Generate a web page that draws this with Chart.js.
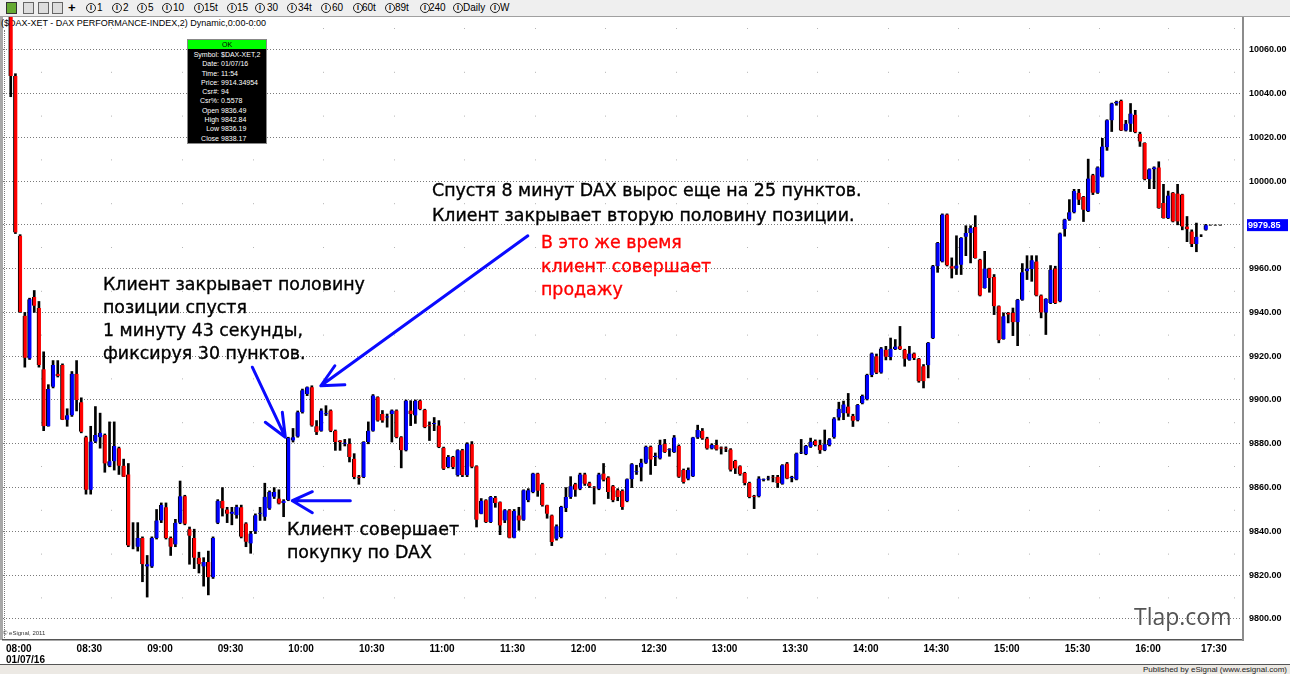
<!DOCTYPE html>
<html>
<head>
<meta charset="utf-8">
<script src="https://cdn.jsdelivr.net/npm/chart.js@4.4.1/dist/chart.umd.min.js"></script>
<style>
html, body { margin: 0; padding: 0; background: #fff; }
#wrap { position: relative; width: 1290px; height: 674px; overflow: hidden; font-family: 'Liberation Sans', Arial, sans-serif; }
#chart { position: absolute; left: 0; top: 0; z-index: 1; }
#title { position: absolute; left: 1px; top: 18px; font-size: 9px; color: #000; z-index: 0; white-space: nowrap; }
#toolbar { position: absolute; left: 0; top: 0; width: 1290px; height: 16px; background: #efefef; border-bottom: 1px solid #a0a0a0; z-index: 2; }
#toolbar span { position: absolute; top: 2px; font-size: 10px; color: #000; }
#toolbar .ci { top: 3px; width: 8px; height: 8px; border: 1px solid #222; border-radius: 50%; font-size: 7px; line-height: 8px; text-align: center; font-weight: bold; }
#toolbar .ic { top: 2px; width: 9px; height: 10px; border: 1px solid #666; background: #ddd; }
#leftbar { position: absolute; left: 0; top: 17px; width: 3px; height: 623px; background: #a8a8a8; z-index: 0; }
#leftdots { position: absolute; left: 4px; top: 30px; width: 0; height: 610px; border-left: 1px dotted #777; z-index: 0; }
#footer { position: absolute; left: 0; top: 664px; width: 1290px; height: 10px; background: #ece9e4; border-top: 1px solid #555; z-index: 2; }
#footer span { position: absolute; right: 3px; top: 0; font-size: 8px; color: #222; }
#copy { position: absolute; left: 3px; top: 630px; font-size: 6px; color: #333; z-index: 2; }
.note { position: absolute; font-family: 'DejaVu Sans', sans-serif; font-size: 17.4px; color: #000; white-space: nowrap; z-index: 3; -webkit-text-stroke: 0.35px #000; }
.red { color: #ff0000; -webkit-text-stroke: 0.35px #ff0000; }
#tlap { position: absolute; left: 1134px; top: 605px; font-family: 'Open Sans', sans-serif; font-size: 23px; line-height: 1; color: #555; z-index: 3; }
#info { position: absolute; left: 187px; top: 39px; width: 78px; height: 103px; background: #000; border: 1px solid #888; z-index: 3; font-size: 7px; color: #fff; }
#info .ok { height: 9px; background: #00ff00; color: #000; text-align: center; line-height: 9px; }
#info table { border-collapse: collapse; width: 100%; margin-top: 1px; }
#info td { padding: 0; height: 9.3px; line-height: 9.3px; white-space: nowrap; }
#info td.k { text-align: right; width: 31px; padding-right: 2px; }
</style>
</head>
<body>
<div id="wrap">
  <div id="leftbar"></div>
  <div id="leftdots"></div>
  <div id="title">($DAX-XET - DAX PERFORMANCE-INDEX,2) Dynamic,0:00-0:00</div>
  <canvas id="chart" width="1290" height="674"></canvas>
  <div id="toolbar"></div>
  <div id="copy">© eSignal, 2011</div>
  <div id="footer"><span>Published by eSignal (www.esignal.com)</span></div>
  <div id="info"><div class="ok">OK</div><table id="infotable"></table></div>
  <div class="note" style="left:432px;top:178px;line-height:25px">Спустя 8 минут DAX вырос еще на 25 пунктов.<br>Клиент закрывает вторую половину позиции.</div>
  <div class="note red" style="left:541px;top:231px;line-height:23.5px">В это же время<br>клиент совершает<br>продажу</div>
  <div class="note" style="left:103px;top:273px;line-height:23px">Клиент закрывает половину<br>позиции спустя<br>1 минуту 43 секунды,<br>фиксируя 30 пунктов.</div>
  <div class="note" style="left:287px;top:518px;line-height:23px">Клиент совершает<br>покупку по DAX</div>
  <div id="tlap">Tlap.com</div>
</div>
<script>
// 2-minute bars, DAX 07.01.2016
var open = [
  10080, 10048, 9975, 9938.5, 9919, 9947, 9942, 9914, 9888, 9906,
  9912, 9916, 9891, 9893, 9912, 9899, 9883, 9859, 9881, 9883,
  9884, 9870, 9872, 9878, 9870, 9866, 9833.5, 9833, 9837, 9824,
  9824, 9837, 9845, 9851, 9837, 9834, 9844, 9856, 9841, 9837,
  9828, 9824, 9826, 9819, 9844, 9854, 9850, 9848, 9847.4, 9851,
  9843.6, 9834.5, 9840, 9848, 9846.7, 9850.5, 9855.8, 9855, 9853, 9854.2,
  9881.5, 9883.3, 9894.4, 9902.7, 9905.8, 9888, 9886, 9893.5, 9895.2, 9886,
  9881.5, 9880, 9880, 9873.2, 9865, 9864.8, 9880.8, 9886, 9901.2, 9893.6,
  9892, 9893.6, 9895.2, 9883, 9877, 9895.2, 9892.9, 9899.7, 9895.5, 9888.5,
  9889, 9888.3, 9878.2, 9869.4, 9874, 9865.6, 9877, 9865.6, 9879.8, 9869.8,
  9848, 9854.2, 9844.3, 9855.4, 9853.3, 9845, 9849.6, 9837.1, 9847.3, 9845.3,
  9854.2, 9858, 9866.4, 9861.5, 9851.9, 9847.3, 9836.6, 9837.4, 9850.7, 9855.7,
  9861.5, 9859.5, 9866, 9862, 9860.3, 9859.5, 9866.4, 9864.6, 9860.6, 9858.8,
  9858.5, 9853.9, 9863.8, 9867, 9869.2, 9871.3, 9878.6, 9874, 9873.3, 9880,
  9877, 9876.3, 9879, 9868, 9864, 9865.2, 9882.9, 9886, 9882.4, 9877.9,
  9879.4, 9878.3, 9878, 9877.4, 9872.2, 9869.8, 9866.7, 9862.1, 9856, 9856,
  9863.5, 9864.2, 9864.8, 9864.9, 9861.8, 9871, 9864.4, 9863.7, 9876, 9875.3,
  9878.6, 9881.4, 9879.4, 9877.1, 9879.4, 9883, 9892, 9894, 9897, 9892.7,
  9890.7, 9898.5, 9900.3, 9911.4, 9920, 9912.5, 9923, 9919.6, 9923.3, 9924.5,
  9923, 9918.4, 9921.2, 9918.8, 9915.4, 9915.9, 9928.3, 9961.1, 9963.3, 9984.7,
  9961.1, 9960, 9961.8, 9974.5, 9976.3, 9979, 9964.1, 9951.2, 9960, 9956.2,
  9942.8, 9927.9, 9939.8, 9939.8, 9935.5, 9945.8, 9958.8, 9959.8, 9963.3, 9947.7,
  9940, 9944.3, 9960, 9945.1, 9978.1, 9982.4, 9985.7, 9994.6, 9992.8, 9986.2,
  10002.6, 9994.6, 10002, 10015.4, 10027.7, 10035.4, 10036.5, 10023.1, 10026.2, 10030.3,
  10021.5, 10017.4, 10000.8, 10005.4, 10006.2, 9990, 9983.1, 9994.6, 9994.3, 9993.8,
  9979.2, 9976.9, 9971.2, 9975, 9977.7
];
var high = [
  10082, 10049, 9975.5, 9940, 9946.5, 9950, 9945, 9922, 9907, 9918,
  9918, 9916.5, 9896, 9913, 9918, 9901, 9883.5, 9888, 9897, 9894,
  9884.5, 9890, 9890, 9878.5, 9873, 9871, 9844, 9844, 9837.5, 9829,
  9837.5, 9850, 9853, 9853, 9837.5, 9845.5, 9863, 9856.5, 9842, 9841,
  9830.5, 9828, 9831, 9837.5, 9854.5, 9860, 9851, 9851, 9852, 9852,
  9844, 9840, 9848, 9851, 9862, 9858.5, 9860, 9859, 9854.5, 9883,
  9887, 9895, 9905, 9906, 9906.5, 9890.6, 9896, 9897.4, 9895.5, 9886.3,
  9881.5, 9882, 9882.3, 9875.5, 9865.6, 9881, 9890, 9902.5, 9901.5, 9895.2,
  9893.6, 9895.5, 9895.5, 9883.3, 9900, 9899.7, 9900, 9900, 9895.8, 9890,
  9892, 9890.6, 9878.5, 9874.7, 9874.3, 9877.3, 9877.5, 9880.5, 9881, 9870,
  9855, 9854.5, 9856, 9856, 9853.5, 9850, 9850, 9850, 9851, 9859,
  9859.5, 9866.6, 9866.6, 9862, 9852, 9847.5, 9843, 9851.5, 9860, 9865,
  9862, 9866.6, 9866.6, 9862.5, 9860.5, 9866.6, 9871, 9865, 9861, 9859.5,
  9859, 9864, 9871, 9870.2, 9873, 9879, 9879, 9875.8, 9881.7, 9882,
  9877.8, 9883.8, 9879.5, 9868.5, 9869, 9883, 9888.5, 9887, 9883, 9880,
  9881.7, 9878.6, 9878.6, 9877.8, 9872.5, 9870, 9867, 9862.5, 9856.5, 9865,
  9864, 9865.2, 9865.6, 9865.6, 9870.5, 9871.5, 9865.2, 9875.8, 9882, 9879.3,
  9882.6, 9881.8, 9881.7, 9886.3, 9882.4, 9892, 9899, 9899.5, 9903, 9893.5,
  9898, 9902.3, 9911.8, 9921.5, 9921, 9924, 9924.5, 9928.3, 9927.6, 9933.6,
  9923.2, 9924.5, 9921.5, 9919, 9916.2, 9926.3, 9961.5, 9972, 9985, 9985,
  9964.9, 9975, 9974.2, 9979.6, 9979.6, 9984.2, 9964.3, 9967.9, 9960.2, 9957.3,
  9943, 9939.8, 9940, 9942, 9946, 9962.3, 9965.9, 9965.9, 9965.9, 9948,
  9946.3, 9961.4, 9961.1, 9976.3, 9982.6, 9991.5, 9996.2, 9996.2, 9993, 10010,
  10003.1, 10006.5, 10019.5, 10028, 10035.6, 10036.5, 10037, 10027.7, 10035.4, 10032.3,
  10022.3, 10017.5, 10005.6, 10006.5, 10008.8, 9998.5, 9995.4, 9994.8, 9998.5, 9994,
  9983.8, 9977.7, 9980.8, 9975.5, 9980.2
];
var low = [
  10038.5, 9976, 9940, 9915, 9918.5, 9940, 9915, 9886, 9888, 9905.5,
  9910.5, 9891, 9888, 9892.5, 9895, 9885, 9857, 9857, 9880.5, 9878,
  9867, 9869.5, 9868, 9866, 9865, 9833, 9832, 9831, 9817, 9810,
  9823.5, 9836.5, 9844, 9836.5, 9829, 9833, 9843.5, 9843, 9825, 9823,
  9821, 9815, 9811, 9818.5, 9843.5, 9847, 9844, 9843, 9846, 9837,
  9833, 9830, 9839, 9845, 9845, 9850, 9855, 9852.5, 9846.7, 9854,
  9880.8, 9883, 9894, 9902, 9888, 9884.2, 9885.7, 9892.9, 9885.5, 9877,
  9877, 9879, 9871.7, 9864, 9861.5, 9864.5, 9880, 9885.7, 9890.3, 9889.8,
  9887.6, 9880.8, 9882.7, 9869, 9876.7, 9888.3, 9889.3, 9895.5, 9887.3, 9881.5,
  9886, 9878.2, 9868.2, 9869, 9868.6, 9865.2, 9865, 9865, 9869, 9842,
  9848, 9844, 9844, 9851, 9838.5, 9844, 9837, 9837, 9840.5, 9845,
  9853.5, 9857.6, 9856, 9851.5, 9846, 9833.5, 9836, 9837, 9849, 9855,
  9856, 9859, 9861, 9860, 9852.5, 9859, 9863, 9855, 9853.5, 9854,
  9850, 9853.5, 9860, 9866, 9863, 9871, 9866, 9870, 9873, 9876,
  9874.3, 9876, 9864.6, 9862, 9863.5, 9865, 9882.4, 9882, 9877.5, 9877.6,
  9877.1, 9875.3, 9876.4, 9867.5, 9866.4, 9865.6, 9861.2, 9855.3, 9850.4, 9855.7,
  9863, 9863.4, 9862.6, 9860, 9861.5, 9864, 9862.6, 9863.5, 9875.5, 9875,
  9878.3, 9879, 9875.6, 9876.8, 9879, 9882.5, 9890.8, 9891, 9892.5, 9887.9,
  9890.4, 9898.2, 9900, 9910.6, 9912, 9912.2, 9918.3, 9918.3, 9923, 9923,
  9915.4, 9918.1, 9918.4, 9908.1, 9905.5, 9910.1, 9928, 9958.3, 9963, 9961.2,
  9955.7, 9957.3, 9957.3, 9965.9, 9962.6, 9964.7, 9947.5, 9951, 9949.2, 9939,
  9926.1, 9927.7, 9935.2, 9929.4, 9924.8, 9945.5, 9955, 9954.2, 9947.5, 9937.5,
  9929.9, 9944, 9944, 9944.8, 9974.8, 9982, 9985.4, 9989.2, 9981.5, 9986,
  9993.8, 9994.3, 10001.8, 10014, 10022.6, 10034.6, 10023, 10022.8, 10022.6, 10022,
  10015.8, 10000.5, 9996.5, 9996.5, 9987.5, 9983, 9982.8, 9981.3, 9980, 9977.7,
  9972.3, 9970, 9967.7, 9974.6, 9977.5
];
var close = [
  10048, 9976.5, 9940.2, 9919.3, 9946, 9943, 9916, 9888, 9905, 9916,
  9911, 9891, 9893, 9912, 9900, 9885.5, 9859, 9881, 9884, 9885,
  9871, 9872, 9879, 9870, 9865, 9833.5, 9833.5, 9837, 9825, 9825,
  9837, 9845, 9852, 9837, 9833, 9844, 9856, 9843.5, 9838, 9828,
  9825, 9826, 9819, 9837, 9854, 9850.5, 9848, 9849, 9851.2, 9837.6,
  9835.3, 9839, 9847.4, 9848.5, 9855.8, 9858, 9858, 9852.7, 9854, 9882.7,
  9883, 9894.4, 9904.5, 9905.8, 9888.3, 9885.3, 9895.2, 9894, 9886, 9880.8,
  9880.8, 9880.5, 9874, 9864.8, 9864.5, 9880.8, 9886, 9902, 9890.6, 9890.6,
  9892.5, 9895.2, 9883, 9877, 9899.7, 9893.6, 9899.7, 9895.9, 9887.6, 9888,
  9889.5, 9878.5, 9868.6, 9874, 9869.4, 9877, 9865.6, 9880, 9869.5, 9845.3,
  9854, 9844.3, 9855.7, 9853, 9842.7, 9849.6, 9837.1, 9849.3, 9845, 9858.8,
  9858.8, 9866.4, 9858.5, 9851.9, 9848, 9835.1, 9842.3, 9851.1, 9855.7, 9860.6,
  9859, 9866, 9861.8, 9860.6, 9860, 9866, 9863.6, 9858, 9854.2, 9855.7,
  9851.1, 9863.8, 9870.7, 9867.5, 9871.3, 9878.6, 9872.8, 9874.5, 9879.4, 9876.3,
  9877.5, 9882.9, 9864.9, 9862.6, 9868, 9882.9, 9886.3, 9882.4, 9877.9, 9879.4,
  9877.4, 9877.9, 9877.7, 9868.2, 9868.7, 9866.1, 9862.1, 9855.7, 9855.7, 9864.1,
  9863.8, 9864.5, 9864.6, 9862.1, 9870.2, 9864.1, 9864.8, 9875.6, 9876.3, 9879,
  9880.9, 9879.4, 9877.1, 9879.8, 9882, 9891.5, 9896, 9898, 9893.8, 9890.5,
  9897.7, 9901.8, 9911.4, 9921.2, 9912.4, 9923.5, 9919.7, 9923.4, 9924.4, 9923.3,
  9918.8, 9921.2, 9919.2, 9908.6, 9908.6, 9926.1, 9961.1, 9971.7, 9984.7, 9961.5,
  9960, 9961.4, 9974, 9976.3, 9978.6, 9964.9, 9947.7, 9960, 9955.7, 9942.8,
  9927.3, 9938.2, 9939, 9935.5, 9945.8, 9958.3, 9960, 9963.8, 9947.7, 9940,
  9946.1, 9959.5, 9944.3, 9976, 9982.4, 9985.7, 9995.4, 9991.5, 9986.9, 10001.1,
  9994.6, 10006.2, 10015.8, 10027.7, 10035.4, 10036.2, 10023.1, 10026.2, 10030.8, 10022.3,
  10018, 10000.8, 10005.4, 10006.2, 9987.7, 9983.1, 9993.4, 9981.5, 9981.5, 9979.2,
  9978, 9971.2, 9974.6, 9975, 9979.85
];

var xTickLabels = ['08:00', '08:30', '09:00', '09:30', '10:00', '10:30', '11:00', '11:30', '12:00',
  '12:30', '13:00', '13:30', '14:00', '14:30', '15:00', '15:30', '16:00', '17:30'];
var sessionDate = '01/07/16';
var yTickStep = 20;

var toolbarLabels = ['1', '2', '5', '10', '15t', '15', '30', '34t', '60', '60t', '89t', '240', 'Daily', 'W'];
var infoRows = [['Symbol:', '$DAX-XET,2'], ['Date:', '01/07/16'], ['Time:', '11:54'], ['Price:', '9914.34954'],
  ['Csr#:', '94'], ['Csr%:', '0.5578'], ['Open', '9836.49'], ['High', '9842.84'], ['Low', '9836.19'], ['Close', '9838.17']];

// toolbar
var tb = document.getElementById('toolbar');
var circX = [86, 112, 137, 162, 194, 227, 255, 287, 321, 353, 385, 420, 453, 490];
var txtX = [97, 123, 148, 173, 204, 237, 267, 298, 332, 362, 395, 429, 463, 500];
tb.innerHTML = '<span class="ic" style="left:6px;background:#6a3;border-color:#333"></span>' +
  '<span class="ic" style="left:23px"></span><span class="ic" style="left:38px"></span>' +
  '<span class="ic" style="left:52px"></span><span style="left:68px;font-weight:bold;font-size:13px;top:0">+</span>';
toolbarLabels.forEach(function (t, i) {
  tb.innerHTML += '<span class="ci" style="left:' + circX[i] + 'px">I</span><span style="left:' + txtX[i] + 'px">' + t + '</span>';
});

var it = document.getElementById('infotable');
infoRows.forEach(function (r) {
  it.innerHTML += '<tr><td class="k">' + r[0] + '</td><td>' + r[1] + '</td></tr>';
});

var xTickPos = xTickLabels.map(function (t, i) { return i < xTickLabels.length - 1 ? -1 + 15 * i : close.length - 2; });

var bodies = open.map(function (o, i) { return { x: i, y: [o, close[i]] }; });
var wicks = low.map(function (l, i) { return { x: i, y: [l, high[i]] }; });
var bodyColors = open.map(function (o, i) { return close[i] < o ? '#ff0000' : '#0000ff'; });

// bars the blue arrows point at
var buyBar = 59, sellBar = 64;

function arrow(ctx, tx, ty, dx, dy, wings) {
  ctx.beginPath();
  ctx.moveTo(tx + dx, ty + dy);
  ctx.lineTo(tx, ty);
  wings.forEach(function (w) { ctx.moveTo(tx, ty); ctx.lineTo(tx + w[0], ty + w[1]); });
  ctx.stroke();
}

var overlay = {
  id: 'overlay',
  afterDatasetsDraw: function (chart) {
    var ctx = chart.ctx, xs = chart.scales.x, ys = chart.scales.y;
    var last = close.length - 1;
    var yl = ys.getPixelForValue(close[last]);
    ctx.save();
    ctx.strokeStyle = '#000';
    ctx.lineWidth = 1;
    ctx.setLineDash([3, 2]);
    ctx.beginPath();
    ctx.moveTo(xs.getPixelForValue(last) + 3, yl);
    ctx.lineTo(xs.getPixelForValue(last) + 18, yl);
    ctx.stroke();
    ctx.setLineDash([]);
    ctx.strokeStyle = '#0a0aff';
    ctx.lineWidth = 3;
    ctx.lineCap = 'round';
    var sx = xs.getPixelForValue(sellBar) + 9, sy = ys.getPixelForValue(high[sellBar]);
    arrow(ctx, sx, sy, 207, -150, [[14, -20], [24, -1]]);
    var ex = xs.getPixelForValue(buyBar) - 3, ey = ys.getPixelForValue(high[buyBar]);
    arrow(ctx, ex, ey, -33, -70, [[-20, -15], [-3, -25]]);
    var bx = xs.getPixelForValue(buyBar) + 4, by = ys.getPixelForValue(low[buyBar]);
    arrow(ctx, bx, by, 58, 0, [[20, -9], [20, 12]]);
    ctx.restore();
  },
  afterDraw: function (chart) {
    var ctx = chart.ctx, ys = chart.scales.y;
    var v = close[close.length - 1];
    var y = ys.getPixelForValue(v);
    ctx.save();
    ctx.fillStyle = '#0000ff';
    ctx.fillRect(ys.left + 4, y - 6, 41, 12);
    ctx.fillStyle = '#fff';
    ctx.font = 'bold 9px "Liberation Sans"';
    ctx.textBaseline = 'middle';
    ctx.fillText(v.toFixed(2), ys.left + 5, y + 0.5);
    ctx.restore();
  }
};

Chart.defaults.font.family = "'Liberation Sans', Arial, sans-serif";

new Chart(document.getElementById('chart'), {
  type: 'bar',
  data: {
    datasets: [{
      data: bodies,
      backgroundColor: bodyColors,
      borderColor: '#000',
      borderWidth: { left: 1 },
      borderSkipped: false,
      barThickness: 4,
      grouped: false,
      order: 0
    }, {
      data: wicks,
      backgroundColor: '#000',
      borderWidth: 0,
      barThickness: 2,
      grouped: false,
      order: 1
    }]
  },
  options: {
    responsive: false,
    animation: false,
    events: [],
    layout: { padding: { top: 17, left: 3, right: 0, bottom: 0 } },
    plugins: { legend: { display: false }, tooltip: { enabled: false } },
    scales: {
      x: {
        type: 'linear',
        offset: false,
        min: -1.64,
        max: 261.9,
        afterBuildTicks: function (s) { s.ticks = xTickPos.map(function (v) { return { value: v }; }); },
        afterFit: function (s) { s.height = 34; },
        grid: { color: '#b4b4b4', lineWidth: 1, drawTicks: false },
        border: { color: '#555', width: 1.5, dash: [1, 42.8], dashOffset: 32.8 },
        ticks: {
          autoSkip: false,
          maxRotation: 0,
          minRotation: 0,
          align: 'start',
          padding: 4,
          color: '#000',
          font: { size: 10, weight: 'bold', lineHeight: 1.05 },
          callback: function (v, i) { return i === 0 ? [xTickLabels[0], sessionDate] : xTickLabels[i]; }
        }
      },
      y: {
        position: 'right',
        min: 9790.4,
        max: 10074.9,
        afterFit: function (s) { s.width = 47; },
        grid: { color: '#7a7a7a', lineWidth: 1, drawTicks: false },
        border: { color: '#8c8c8c', width: 2, dash: [1, 2] },
        ticks: {
          stepSize: yTickStep,
          includeBounds: false,
          padding: 6,
          color: '#000',
          font: { size: 9, weight: 'bold' },
          callback: function (v) { return v === 9980 ? '' : v.toFixed(2); }
        }
      }
    }
  },
  plugins: [overlay]
});
</script>
</body>
</html>
